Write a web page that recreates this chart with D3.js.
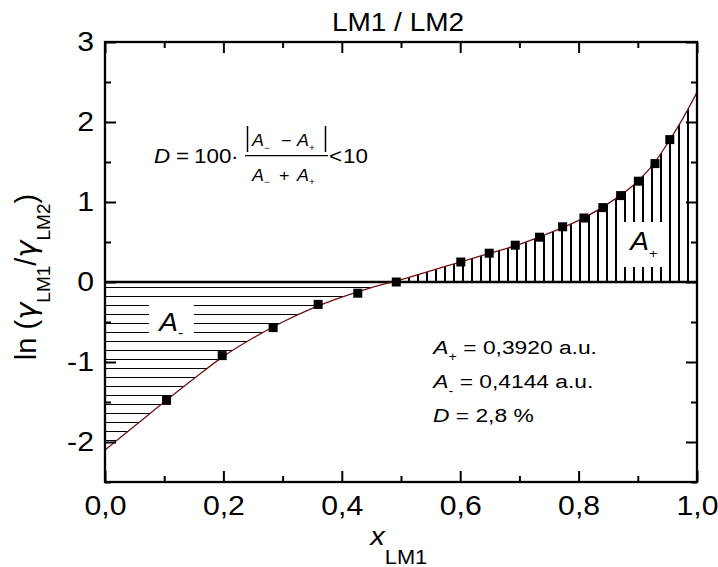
<!DOCTYPE html>
<html>
<head>
<meta charset="utf-8">
<script src="https://cdn.jsdelivr.net/npm/d3@7"></script>
<style>
  html, body { margin: 0; padding: 0; background: #fff; }
  svg { display: block; font-family: "Liberation Sans", Arial, sans-serif; }
  .sx   { transform-box: fill-box; transform-origin: 50% 50%;  transform: scaleX(1.12); }
  .sxl  { transform-box: fill-box; transform-origin: 0% 50%;   transform: scaleX(1.12); }
  .sxw  { transform-box: fill-box; transform-origin: 0% 50%;   transform: scaleX(1.2); }
  .sxr  { transform-box: fill-box; transform-origin: 100% 50%; transform: scaleX(1.12); }
</style>
</head>
<body>
<svg id="chart" width="718" height="567"></svg>
<script>
// Measured points: mole fraction of LM1 and ln(gamma_LM1 / gamma_LM2)
const xData = [0.104, 0.198, 0.284, 0.360, 0.427, 0.492, 0.601, 0.649, 0.693, 0.734,
               0.773, 0.809, 0.841, 0.871, 0.901, 0.929, 0.954];
const yData = [-1.48, -0.92, -0.57, -0.28, -0.14, 0.00, 0.25, 0.36, 0.46, 0.56,
               0.69, 0.80, 0.93, 1.08, 1.26, 1.48, 1.78];

// Fitted curve, sampled along x
const fitX = [0, 0.05, 0.10, 0.15, 0.20, 0.25, 0.30, 0.35, 0.40, 0.45, 0.50, 0.55,
              0.60, 0.65, 0.70, 0.75, 0.80, 0.85, 0.90, 0.925, 0.95, 0.975, 1.0];
const fitY = [-2.10, -1.80, -1.50, -1.21, -0.93, -0.70, -0.50, -0.33, -0.19, -0.07, 0.03, 0.14,
              0.25, 0.36, 0.47, 0.61, 0.77, 0.98, 1.26, 1.46, 1.73, 2.03, 2.37];

// Axis ticks
const xTickValues = [0, 0.2, 0.4, 0.6, 0.8, 1.0];
const xTickLabels = ["0,0", "0,2", "0,4", "0,6", "0,8", "1,0"];
const xMinorTicks = [0.1, 0.3, 0.5, 0.7, 0.9];
const yTickValues = [-2, -1, 0, 1, 2, 3];
const yTickLabels = ["-2", "-1", "0", "1", "2", "3"];
const yMinorTicks = [-2.5, -1.5, -0.5, 0.5, 1.5, 2.5];

// Area results
const areaPlus = "0,3920";
const areaMinus = "0,4144";
const deviation = "2,8";

const W = 718, H = 567;
const m = { left: 105, right: 21, top: 42, bottom: 85 };
const svg = d3.select("#chart");

const x = d3.scaleLinear().domain([0, 1]).range([m.left, W - m.right]);
const y = d3.scaleLinear().domain([-2.5, 3]).range([H - m.bottom, m.top]);
const x0 = x(0), x1 = x(1), yTop = y(3), yBot = y(-2.5), yZero = y(0);

// ---- hatch patterns and clips ----
const defs = svg.append("defs");
const hp = defs.append("pattern").attr("id", "hatchH")
  .attr("patternUnits", "userSpaceOnUse").attr("width", 20).attr("height", 9)
  .attr("x", 0).attr("y", yZero);
hp.append("rect").attr("x", 0).attr("y", 5).attr("width", 20).attr("height", 1.4)
  .attr("fill", "#000").attr("shape-rendering", "crispEdges");

const vp = defs.append("pattern").attr("id", "hatchV")
  .attr("patternUnits", "userSpaceOnUse").attr("width", 9).attr("height", 20)
  .attr("x", x1 - 1).attr("y", 0);
vp.append("rect").attr("x", 0).attr("y", 0).attr("width", 1.5).attr("height", 20)
  .attr("fill", "#000").attr("shape-rendering", "crispEdges");

defs.append("clipPath").attr("id", "clipBelow").append("rect")
  .attr("x", x0).attr("y", yZero).attr("width", x1 - x0).attr("height", yBot - yZero);
defs.append("clipPath").attr("id", "clipAbove").append("rect")
  .attr("x", x0).attr("y", yTop).attr("width", x1 - x0).attr("height", yZero - yTop);
defs.append("clipPath").attr("id", "clipPlot").append("rect")
  .attr("x", x0).attr("y", yTop).attr("width", x1 - x0).attr("height", yBot - yTop);

const fit = fitX.map((d, i) => [d, fitY[i]]);
const area = d3.area()
  .x(d => x(d[0])).y0(yZero).y1(d => y(d[1]))
  .curve(d3.curveMonotoneX);
const line = d3.line()
  .x(d => x(d[0])).y(d => y(d[1]))
  .curve(d3.curveMonotoneX);

// hatched areas A- (below zero) and A+ (above zero)
svg.append("path").datum(fit).attr("d", area)
  .attr("fill", "url(#hatchH)").attr("clip-path", "url(#clipBelow)");
svg.append("path").datum(fit).attr("d", area)
  .attr("fill", "url(#hatchV)").attr("clip-path", "url(#clipAbove)");

// white boxes behind the area labels
svg.append("rect").attr("x", 149).attr("y", 299).attr("width", 45).attr("height", 40).attr("fill", "#fff");
svg.append("rect").attr("x", 623).attr("y", 222).attr("width", 46).attr("height", 45).attr("fill", "#fff");

// zero line
svg.append("line").attr("x1", x0).attr("x2", x1).attr("y1", yZero).attr("y2", yZero)
  .attr("stroke", "#000").attr("stroke-width", 2.5);

// fitted curve
svg.append("path").datum(fit).attr("d", line)
  .attr("fill", "none").attr("stroke", "#6e1212").attr("stroke-width", 1.3)
  .attr("clip-path", "url(#clipPlot)");

// data markers
const ms = 9;
svg.append("g").selectAll("rect").data(xData).join("rect")
  .attr("x", d => x(d) - ms / 2)
  .attr("y", (d, i) => y(yData[i]) - ms / 2)
  .attr("width", ms).attr("height", ms).attr("fill", "#000");

// ---- axes ----
const tickFont = 27;
function styleAxis(g) {
  g.select(".domain").remove();
  g.attr("font-family", null).attr("font-size", tickFont);
  g.selectAll("line").attr("stroke", "#000").attr("stroke-width", 2);
}

const gB = svg.append("g").attr("transform", `translate(0,${yBot})`)
  .call(d3.axisBottom(x).tickValues(xTickValues).tickFormat((d, i) => xTickLabels[i])
    .tickSizeInner(-11).tickSizeOuter(0).tickPadding(14));
styleAxis(gB);
gB.selectAll("text").attr("class", "sx").attr("fill", "#000");

const gBm = svg.append("g").attr("transform", `translate(0,${yBot})`)
  .call(d3.axisBottom(x).tickValues(xMinorTicks).tickFormat("").tickSizeInner(-6).tickSizeOuter(0));
styleAxis(gBm);

const gT = svg.append("g").attr("transform", `translate(0,${yTop})`)
  .call(d3.axisTop(x).tickValues(xTickValues).tickFormat("").tickSizeInner(-11).tickSizeOuter(0));
styleAxis(gT);
const gTm = svg.append("g").attr("transform", `translate(0,${yTop})`)
  .call(d3.axisTop(x).tickValues(xMinorTicks).tickFormat("").tickSizeInner(-6).tickSizeOuter(0));
styleAxis(gTm);

const gL = svg.append("g").attr("transform", `translate(${x0},0)`)
  .call(d3.axisLeft(y).tickValues(yTickValues).tickFormat((d, i) => yTickLabels[i])
    .tickSizeInner(-11).tickSizeOuter(0).tickPadding(11));
styleAxis(gL);
gL.selectAll("text").attr("class", "sxr").attr("fill", "#000");
const gLm = svg.append("g").attr("transform", `translate(${x0},0)`)
  .call(d3.axisLeft(y).tickValues(yMinorTicks).tickFormat("").tickSizeInner(-6).tickSizeOuter(0));
styleAxis(gLm);

const gR = svg.append("g").attr("transform", `translate(${x1},0)`)
  .call(d3.axisRight(y).tickValues(yTickValues).tickFormat("").tickSizeInner(-11).tickSizeOuter(0));
styleAxis(gR);
const gRm = svg.append("g").attr("transform", `translate(${x1},0)`)
  .call(d3.axisRight(y).tickValues(yMinorTicks).tickFormat("").tickSizeInner(-6).tickSizeOuter(0));
styleAxis(gRm);

// frame
svg.append("rect").attr("x", x0).attr("y", yTop).attr("width", x1 - x0).attr("height", yBot - yTop)
  .attr("fill", "none").attr("stroke", "#000").attr("stroke-width", 2.3);

// ---- text helpers ----
function rich(px, py, size, parts, anchor, cls) {
  const t = svg.append("text").attr("x", px).attr("y", py).attr("font-size", size)
    .attr("text-anchor", anchor || "start").attr("class", cls === undefined ? "sxl" : cls)
    .attr("fill", "#000");
  let shift = 0;
  parts.forEach(p => {
    const ts = t.append("tspan").text(p.t);
    const target = p.dy || 0;
    if (target - shift !== 0) ts.attr("dy", target - shift);
    shift = target;
    if (p.size) ts.attr("font-size", p.size);
    if (p.it) ts.attr("font-style", "italic");
    if (p.dx) ts.attr("dx", p.dx);
    if (p.ff) ts.attr("font-family", p.ff);
  });
  return t;
}

// title
rich(398, 31.5, 25, [{ t: "LM1 / LM2" }], "middle", "sx");

// x axis title
rich(370, 545, 26, [{ t: "x", it: true }, { t: "LM1", size: 19.5, dy: 19 }], "start", "sxl");

// y axis title (rotated)
svg.append("text")
  .attr("transform", `translate(36,${(yTop + yBot) / 2 + 15}) rotate(-90)`)
  .attr("text-anchor", "middle").attr("font-size", 29).attr("fill", "#000")
  .call(t => {
    t.append("tspan").text("ln (");
    t.append("tspan").text("γ").attr("font-style", "italic").attr("font-family", "DejaVu Sans");
    t.append("tspan").text("LM1").attr("font-size", 19).attr("dy", 14);
    t.append("tspan").text("/").attr("dy", -14);
    t.append("tspan").text("γ").attr("font-style", "italic").attr("font-family", "DejaVu Sans");
    t.append("tspan").text("LM2").attr("font-size", 19).attr("dy", 14);
    t.append("tspan").text(")").attr("dy", -14);
  });

// area labels inside the hatched regions
rich(159, 331.5, 25, [{ t: "A", it: true }, { t: "-", size: 14, dy: 7 }]);
rich(630, 250, 25, [{ t: "A", it: true }, { t: "+", size: 13, dy: 8.5 }]);

// results
rich(433, 354, 19, [{ t: "A", it: true }, { t: "+", size: 12, dy: 7.5 }, { t: " = " + areaPlus + " a.u." }], "start", "sxw");
rich(433, 388, 19, [{ t: "A", it: true }, { t: "-", size: 12, dy: 7 }, { t: " = " + areaMinus + " a.u." }], "start", "sxw");
rich(433, 422, 19, [{ t: "D", it: true }, { t: " = " + deviation + " %" }], "start", "sxw");

// deviation formula
rich(154, 163, 20, [{ t: "D", it: true }]);
rich(176, 163, 20, [{ t: "=" }]);
rich(194, 163, 20, [{ t: "100" }]);
rich(231, 163, 20, [{ t: "·" }]);
rich(252, 146, 16, [{ t: "A", it: true }, { t: "−", size: 9, dy: 5 }]);
rich(281, 146, 16, [{ t: "−" }]);
rich(297, 146, 16, [{ t: "A", it: true }, { t: "+", size: 9, dy: 5 }]);
rich(252, 181, 16, [{ t: "A", it: true }, { t: "−", size: 9, dy: 4 }]);
rich(279, 181, 16, [{ t: "+" }]);
rich(297, 181, 16, [{ t: "A", it: true }, { t: "+", size: 9, dy: 4 }]);
rich(329, 163, 20, [{ t: "<" }]);
rich(343, 163, 20, [{ t: "10" }]);
svg.append("line").attr("x1", 247.5).attr("x2", 247.5).attr("y1", 126).attr("y2", 152)
  .attr("stroke", "#000").attr("stroke-width", 1.5);
svg.append("line").attr("x1", 325.5).attr("x2", 325.5).attr("y1", 126).attr("y2", 152)
  .attr("stroke", "#000").attr("stroke-width", 1.5);
svg.append("line").attr("x1", 245).attr("x2", 328).attr("y1", 155.7).attr("y2", 155.7)
  .attr("stroke", "#000").attr("stroke-width", 1.2);
</script>
</body>
</html>
